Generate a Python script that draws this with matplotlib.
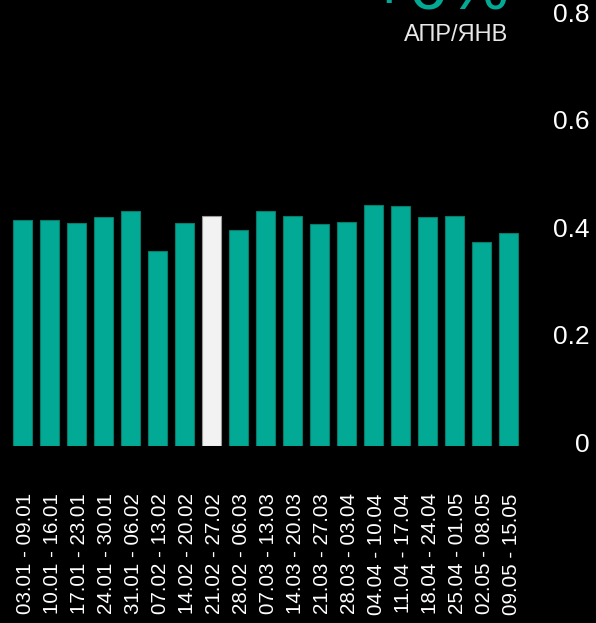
import matplotlib
matplotlib.use("Agg")
import matplotlib.pyplot as plt
from matplotlib.transforms import ScaledTranslation

plt.rcParams['font.family'] = ['Liberation Sans', 'DejaVu Sans']

categories = ["03.01 - 09.01", "10.01 - 16.01", "17.01 - 23.01", "24.01 - 30.01",
              "31.01 - 06.02", "07.02 - 13.02", "14.02 - 20.02", "21.02 - 27.02",
              "28.02 - 06.03", "07.03 - 13.03", "14.03 - 20.03", "21.03 - 27.03",
              "28.03 - 03.04", "04.04 - 10.04", "11.04 - 17.04", "18.04 - 24.04",
              "25.04 - 01.05", "02.05 - 08.05", "09.05 - 15.05"]
values = [0.421, 0.421, 0.416, 0.427, 0.437, 0.364, 0.415, 0.428, 0.402, 0.438,
          0.428, 0.413, 0.417, 0.448, 0.447, 0.426, 0.429, 0.379, 0.397]
highlight = "21.02 - 27.02"
yticks = [0, 0.2, 0.4, 0.6, 0.8]
ytick_labels = ["0", "0.2", "0.4", "0.6", "0.8"]
title_value = "+6%"
title_sub = "АПР/ЯНВ"

W, H, DPI = 596, 623, 100
fig = plt.figure(figsize=(W / DPI, H / DPI), dpi=DPI, facecolor="black")

ax_left, ax_right, ax_top, ax_bottom = 0, 530, 0, 446  # pixels (top-origin)
ax = fig.add_axes([ax_left / W, (H - ax_bottom) / H, (ax_right - ax_left) / W,
                   (ax_bottom - ax_top) / H])
ax.set_facecolor("black")

teal = "#02AA95"
teal_edge = "#0b7a6b"
white_bar = "#f2f2f2"
x = list(range(len(categories)))
colors = [white_bar if c == highlight else teal for c in categories]
edges = ["#9a9a9a" if c == highlight else teal_edge for c in categories]
ax.bar(x, values, width=0.70, color=colors, edgecolor=edges, linewidth=0.8)

pitch = 27.0
first_center = 22.8
ax.set_xlim(-first_center / pitch, (ax_right - ax_left - first_center) / pitch)
px_per_unit = 537.0
ax.set_ylim(0, (ax_bottom - ax_top) / px_per_unit)

for s in ax.spines.values():
    s.set_visible(False)

ax.set_xticks(x)
ax.set_xticklabels(categories, rotation=90, fontsize=14.8, color="white")
ax.tick_params(axis="x", length=0, pad=34)
xoff = ScaledTranslation(2.5 / 100, 0, fig.dpi_scale_trans)
for lab in ax.get_xticklabels():
    lab.set_transform(lab.get_transform() + xoff)

ax.yaxis.tick_right()
ax.set_yticks(yticks)
ax.set_yticklabels(ytick_labels, fontsize=19, color="white")
ax.tick_params(axis="y", length=0, pad=60 * 72 / DPI)
off = ScaledTranslation(0, 4 / 100, fig.dpi_scale_trans)
for lab in ax.get_yticklabels():
    lab.set_horizontalalignment("right")
    lab.set_transform(lab.get_transform() + off)

fig.text(510 / W, (H - 10) / H, title_value, color=teal, fontsize=50,
         ha="right", va="baseline")
fig.text(508 / W, (H - 41) / H, title_sub, color="#e8e8e8", fontsize=17,
         ha="right", va="baseline")

fig.savefig("out.png", dpi=DPI, facecolor="black")
